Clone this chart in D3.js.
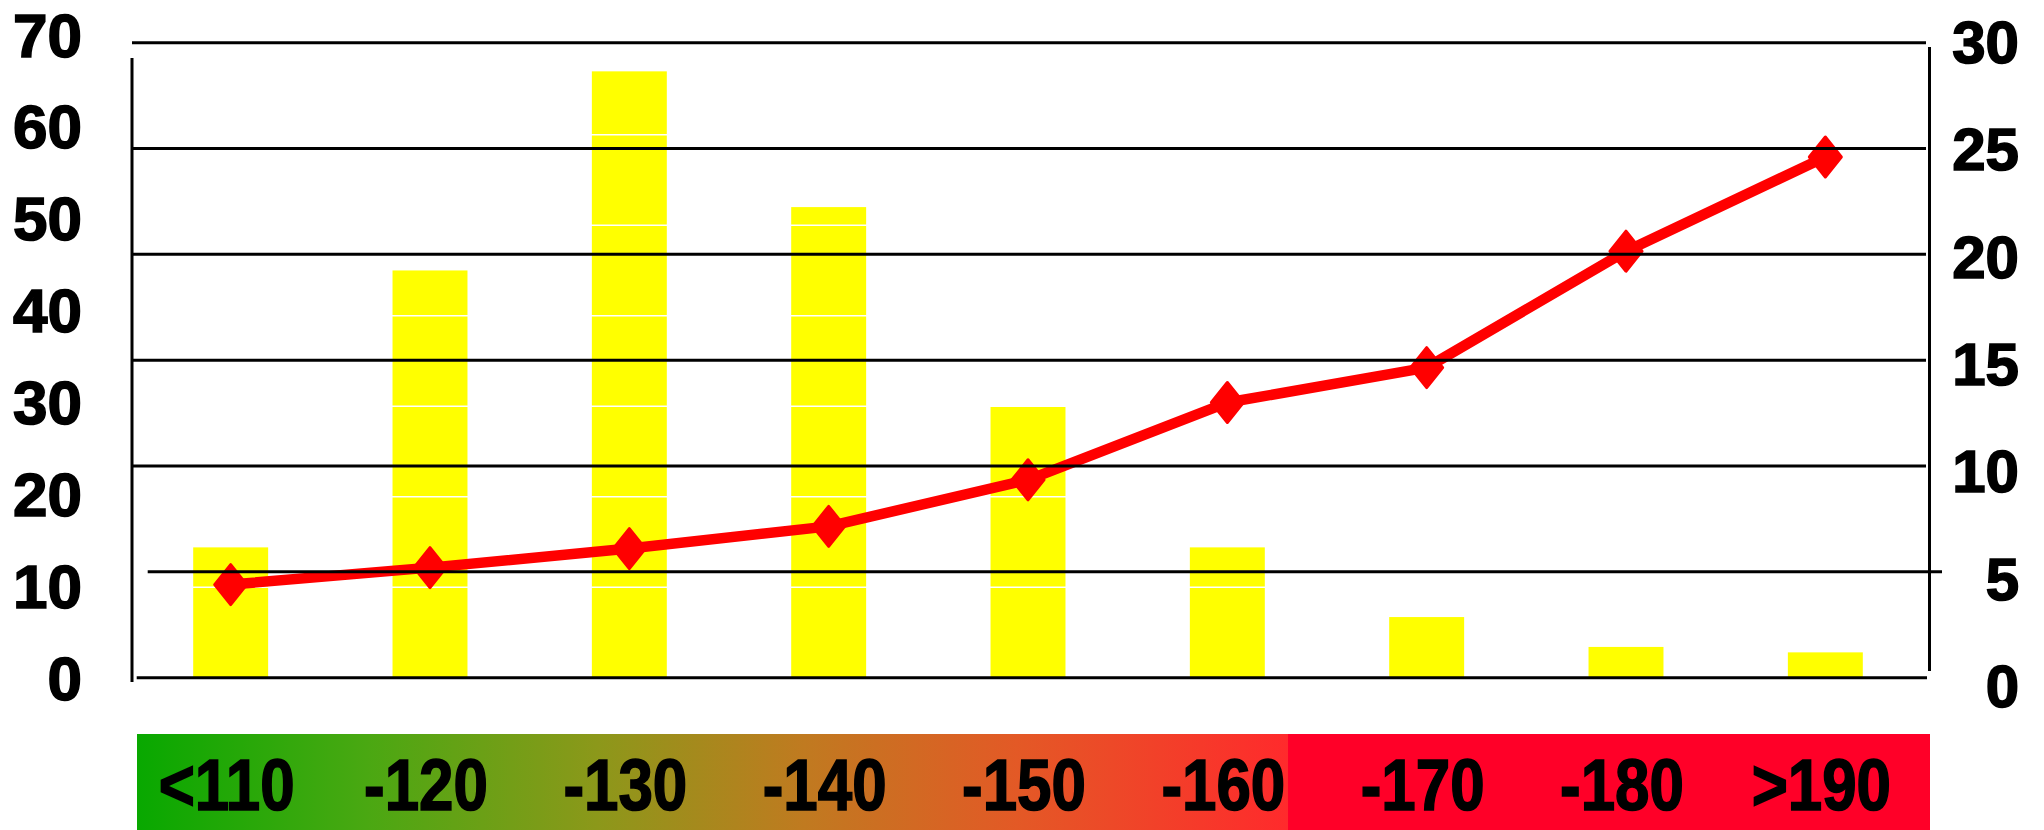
<!DOCTYPE html>
<html>
<head>
<meta charset="utf-8">
<script src="https://cdn.jsdelivr.net/npm/d3@7"></script>
<style>
  html, body { margin: 0; padding: 0; background: #ffffff; }
  svg { display: block; }
</style>
</head>
<body>
<svg id="chart" width="2044" height="830"></svg>
<script>
// Categories along the band at the bottom
const categories = ["<110", "-120", "-130", "-140", "-150", "-160", "-170", "-180", ">190"];
// Bar series (left axis, 0-70)
const barValues = [14.4, 45, 67, 52, 30, 14.4, 6.7, 3.4, 2.8];
// Line series (right axis, 0-30)
const lineValues = [4.4, 5.2, 6.1, 7.15, 9.35, 13.0, 14.65, 20.15, 24.6];
// Tick labels
const leftTicks = [0, 10, 20, 30, 40, 50, 60, 70];
const rightTicks = [0, 5, 10, 15, 20, 25, 30];
// Inner white rules on the bar scale
const barRules = [10, 20, 30, 40, 50, 60];

const svg = d3.select("#chart");

const x = d3.scaleBand()
  .domain(categories)
  .range([131, 1925])
  .paddingInner(0.624)
  .paddingOuter(0.312);

const yBar = d3.scaleLinear().domain([0, 70]).range([677.7, 44.2]);
const yLine = d3.scaleLinear().domain([0, 30]).range([677.7, 42.7]);
// label placement scales for the two value axes
const yLeftLabel = d3.scaleLinear().domain([0, 70]).range([678, 35]);
const yRightLabel = d3.scaleLinear().domain([0, 30]).range([686, 42]);

// ---- bottom colour band ----
const defs = svg.append("defs");
const grad = defs.append("linearGradient")
  .attr("id", "band")
  .attr("gradientUnits", "userSpaceOnUse")
  .attr("x1", 137).attr("x2", 1288).attr("y1", 0).attr("y2", 0);
[
  [0, "#08a800"], [0.2, "#4aa812"], [0.4, "#8c981a"], [0.58, "#c07a20"],
  [0.77, "#e45826"], [1, "#ff2a2c"]
].forEach(([o, c]) => grad.append("stop").attr("offset", o).attr("stop-color", c));

svg.append("rect").attr("x", 137).attr("y", 734).attr("width", 1152).attr("height", 96)
  .attr("fill", "url(#band)");
svg.append("rect").attr("x", 1288).attr("y", 734).attr("width", 642).attr("height", 96)
  .attr("fill", "#ff0028");

// condensed bold category labels
svg.append("g")
  .selectAll("text")
  .data(categories)
  .join("text")
  .attr("transform", d => `translate(${x(d) + x.bandwidth() / 2 - 4},810) scale(0.86,1)`)
  .attr("text-anchor", "middle")
  .attr("font-family", "'Liberation Sans', Arial, sans-serif")
  .attr("font-weight", "bold")
  .attr("font-size", 72)
  .attr("fill", "#000")
  .attr("stroke", "#000")
  .attr("stroke-width", 1.6)
  .text(d => d);

// ---- bars ----
svg.append("g")
  .selectAll("rect")
  .data(barValues)
  .join("rect")
  .attr("x", (d, i) => x(categories[i]))
  .attr("y", d => yBar(d))
  .attr("width", x.bandwidth())
  .attr("height", d => yBar(0) - yBar(d))
  .attr("fill", "#ffff00");

// thin white rules across the bars
svg.append("g")
  .selectAll("line")
  .data(barRules)
  .join("line")
  .attr("x1", 140).attr("x2", 1905)
  .attr("y1", d => yBar(d)).attr("y2", d => yBar(d))
  .attr("stroke", "#ffffff").attr("stroke-width", 1.5);

// ---- line series ----
const pts = lineValues.map((v, i) => [x(categories[i]) + x.bandwidth() / 2, yLine(v)]);
svg.append("path")
  .attr("d", d3.line()(pts))
  .attr("fill", "none")
  .attr("stroke", "#ff0000")
  .attr("stroke-width", 10.5)
  .attr("stroke-linejoin", "round");

svg.append("g")
  .selectAll("path")
  .data(pts)
  .join("path")
  .attr("transform", d => `translate(${d[0]},${d[1]})`)
  .attr("d", "M0,-20L16,0L0,20L-16,0Z")
  .attr("fill", "#ff0000")
  .attr("stroke", "#ff0000")
  .attr("stroke-width", 3)
  .attr("stroke-linejoin", "round");

// ---- grid rules (right-axis steps) ----
const gridExtent = v => v === 0 ? [136.7, 1927] : v === 5 ? [147.7, 1942] : [132, 1926];
svg.append("g")
  .selectAll("line")
  .data(rightTicks)
  .join("line")
  .attr("x1", d => gridExtent(d)[0]).attr("x2", d => gridExtent(d)[1])
  .attr("y1", d => yLine(d)).attr("y2", d => yLine(d))
  .attr("stroke", "#000").attr("stroke-width", 3);

// ---- axis lines ----
svg.append("line").attr("x1", 132).attr("x2", 132).attr("y1", 58).attr("y2", 682)
  .attr("stroke", "#000").attr("stroke-width", 3);
svg.append("line").attr("x1", 1929.5).attr("x2", 1929.5).attr("y1", 47).attr("y2", 671)
  .attr("stroke", "#000").attr("stroke-width", 3);

// ---- axis labels ----
const labelFont = "'Liberation Sans', Arial, Helvetica, sans-serif";

const leftAxis = svg.append("g")
  .attr("transform", "translate(82,0)")
  .call(d3.axisLeft(yLeftLabel).tickValues(leftTicks).tickSize(0).tickPadding(0));
leftAxis.select(".domain").remove();
leftAxis.selectAll("text")
  .attr("font-family", labelFont).attr("font-weight", "bold").attr("font-size", 62)
  .attr("fill", "#000").attr("stroke", "#000").attr("stroke-width", 1.6)
  .attr("dy", "0.34em");

const rightAxis = svg.append("g")
  .attr("transform", "translate(2019,0)")
  .call(d3.axisLeft(yRightLabel).tickValues(rightTicks).tickSize(0).tickPadding(0));
rightAxis.select(".domain").remove();
rightAxis.selectAll("text")
  .attr("font-family", labelFont).attr("font-weight", "bold").attr("font-size", 60)
  .attr("fill", "#000").attr("stroke", "#000").attr("stroke-width", 1.6)
  .attr("dy", "0.34em");
</script>
</body>
</html>
